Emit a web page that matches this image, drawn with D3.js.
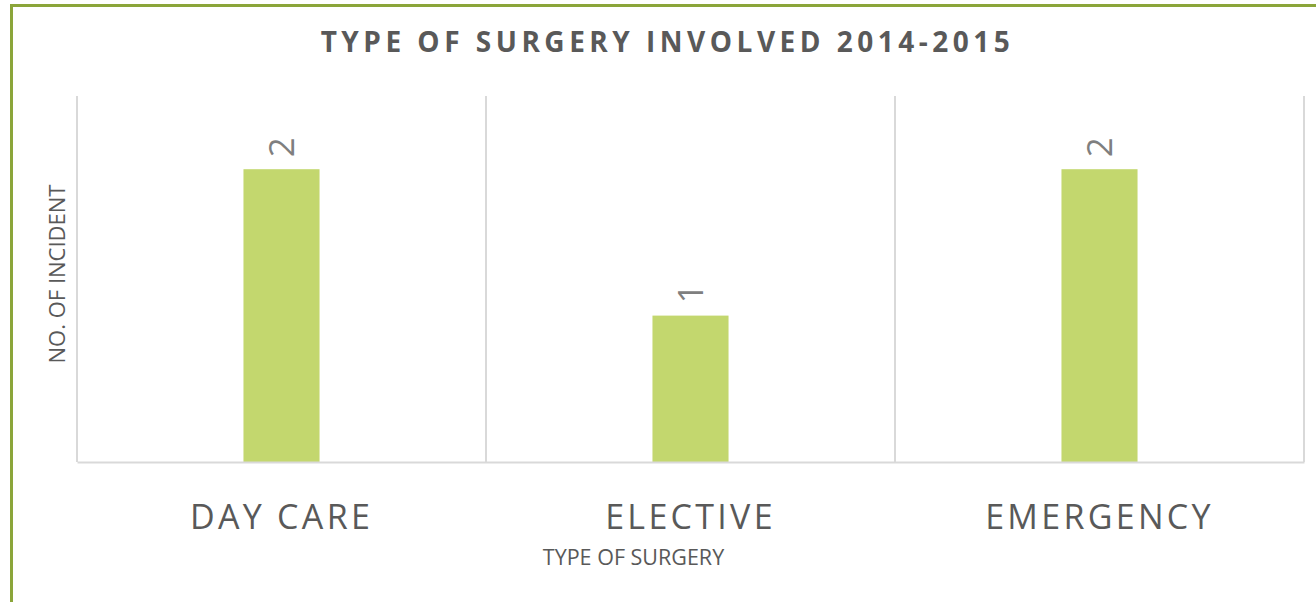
<!DOCTYPE html>
<html>
<head>
<meta charset="utf-8">
<script src="https://cdn.jsdelivr.net/npm/d3@7"></script>
<style>
  html, body { margin: 0; padding: 0; background: #ffffff; }
  svg { display: block; font-family: "Open Sans", sans-serif; }
</style>
</head>
<body>
<svg id="chart" width="1316" height="602"></svg>
<script>
// Chart content
const chartTitle = "TYPE OF SURGERY INVOLVED 2014-2015";
const xAxisTitle = "TYPE OF SURGERY";
const yAxisTitle = "NO. OF INCIDENT";
const categories = ["DAY CARE", "ELECTIVE", "EMERGENCY"];
const incidents = [2, 1, 2];
const yDomain = [0, 2.5];

const svg = d3.select("#chart");

// Outer chart frame (runs past the right and bottom edges of the view)
svg.append("rect")
  .attr("x", 11.5).attr("y", 5.5)
  .attr("width", 1340).attr("height", 620)
  .attr("fill", "#ffffff")
  .attr("stroke", "#8ba53a")
  .attr("stroke-width", 3);

const plot = { left: 77, right: 1304, top: 96, bottom: 462 };

// Category slots: one slot per category, bar occupies the middle of its slot
const x = d3.scaleBand()
  .domain(categories)
  .range([plot.left, plot.right])
  .paddingInner(0.814)
  .paddingOuter(0.407);

const slot = d3.scaleBand()
  .domain(categories)
  .range([plot.left, plot.right])
  .padding(0);

const y = d3.scaleLinear().domain(yDomain).range([plot.bottom, plot.top]);

// Vertical gridlines at the slot boundaries
const boundaries = categories.map(c => slot(c)).concat([slot(categories[categories.length - 1]) + slot.bandwidth()]);
svg.append("g")
  .selectAll("line")
  .data(boundaries)
  .join("line")
  .attr("x1", d => d).attr("x2", d => d)
  .attr("y1", y(yDomain[1])).attr("y2", y(0))
  .attr("stroke", "#d9d9d9")
  .attr("stroke-width", 2);

// Bars
svg.append("g")
  .selectAll("rect")
  .data(categories)
  .join("rect")
  .attr("x", d => x(d))
  .attr("width", x.bandwidth())
  .attr("y", (d, i) => y(incidents[i]))
  .attr("height", (d, i) => y(0) - y(incidents[i]))
  .attr("fill", "#c3d76e");

// Category axis along the baseline
const xAxis = svg.append("g")
  .attr("transform", `translate(0,${y(0)})`)
  .call(d3.axisBottom(slot).tickSize(0).tickPadding(0));
xAxis.select(".domain")
  .attr("stroke", "#d9d9d9")
  .attr("stroke-width", 2);
xAxis.selectAll(".tick text")
  .attr("y", 67)
  .attr("dy", 0)
  .attr("fill", "#595959")
  .style("font-family", "'Open Sans', sans-serif")
  .style("font-size", "34px")
  .style("letter-spacing", "3.3px");

// Value labels above the bars, rotated to read upward
svg.append("g")
  .selectAll("text")
  .data(categories)
  .join("text")
  .attr("transform", (d, i) => `translate(${x(d) + x.bandwidth() / 2},${y(incidents[i]) - 12}) rotate(-90)`)
  .attr("dy", "0.35em")
  .attr("text-anchor", "start")
  .attr("fill", "#7f7f7f")
  .style("font-size", "35px")
  .text((d, i) => incidents[i]);

// Chart title
svg.append("text")
  .attr("x", 667.5).attr("y", 52)
  .attr("text-anchor", "middle")
  .attr("fill", "#595959")
  .style("font-size", "28px")
  .style("font-weight", "bold")
  .style("letter-spacing", "4.5px")
  .text(chartTitle);

// Axis titles
svg.append("text")
  .attr("x", 633.5).attr("y", 565)
  .attr("text-anchor", "middle")
  .attr("fill", "#595959")
  .style("font-size", "21.5px")
  .text(xAxisTitle);

svg.append("text")
  .attr("transform", "translate(65,274) rotate(-90)")
  .attr("text-anchor", "middle")
  .attr("fill", "#595959")
  .style("font-size", "22px")
  .text(yAxisTitle);
</script>
</body>
</html>
